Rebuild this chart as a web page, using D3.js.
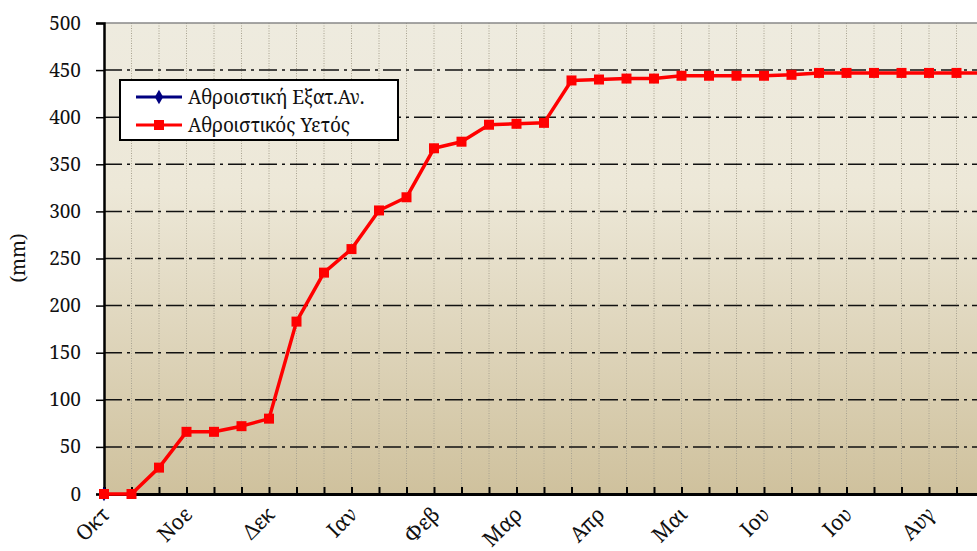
<!DOCTYPE html>
<html>
<head>
<meta charset="utf-8">
<script src="https://cdn.jsdelivr.net/npm/d3@7"></script>
<style>
  body { margin: 0; background: #fff; }
  svg { display: block; overflow: hidden; }
  text { font-family: "Noto Serif", "Liberation Serif", serif; fill: #111; }
</style>
</head>
<body>
<div id="chart"></div>
<script>
// 10-day periods from October onward (37 points, index 0..36); labels every 3rd
var monthLabels = ["Οκτ", "Νοε", "Δεκ", "Ιαν", "Φεβ", "Μαρ", "Απρ", "Μαι", "Ιου", "Ιου", "Αυγ"];
var yTicks = [0, 50, 100, 150, 200, 250, 300, 350, 400, 450, 500];

// cumulative rainfall (mm)
var rainCum = [0, 0, 28, 66, 66, 72, 80, 183, 235, 260, 301, 315, 367, 374, 392, 393, 394,
               439, 440, 441, 441, 444, 444, 444, 444, 445, 447, 447, 447, 447, 447, 447,
               447, 447, 447, 447, 447];
// cumulative evaporation - only the start value is shown
var evapCum = [0];

var seriesNames = ["Αθροιστική Εξατ.Αν.", "Αθροιστικός Υετός"];

var svgwidth = 977, svgheight = 551;
var margin = { top: 23, left: 104 };
var step = 27.5;
var plotBottom = 494;

var svg = d3.select("#chart").append("svg")
    .attr("width", svgwidth)
    .attr("height", svgheight);

var x = d3.scaleLinear().domain([0, 36]).range([margin.left, margin.left + 36 * step]);
var y = d3.scaleLinear().domain([0, 500]).range([plotBottom, margin.top]);

// background gradient
var grad = svg.append("defs").append("linearGradient")
    .attr("id", "bg").attr("x1", 0).attr("y1", 0).attr("x2", 0).attr("y2", 1);
grad.append("stop").attr("offset", "0%").attr("stop-color", "#EEEBDF");
grad.append("stop").attr("offset", "35%").attr("stop-color", "#EDE8D8");
grad.append("stop").attr("offset", "100%").attr("stop-color", "#CFC19D");

svg.append("rect")
    .attr("x", margin.left).attr("y", margin.top)
    .attr("width", x(36) - margin.left).attr("height", plotBottom - margin.top)
    .attr("fill", "url(#bg)");

// vertical dotted grid
svg.append("g").selectAll("line")
    .data(d3.range(1, 37))
    .enter().append("line")
    .attr("x1", d => x(d)).attr("x2", d => x(d))
    .attr("y1", margin.top).attr("y2", plotBottom)
    .attr("stroke", "#a8a290")
    .attr("stroke-width", 1)
    .attr("stroke-dasharray", "1,1.5");

// horizontal dash-dot grid
svg.append("g").selectAll("line")
    .data(yTicks.slice(1, -1))
    .enter().append("line")
    .attr("x1", margin.left).attr("x2", svgwidth)
    .attr("y1", d => y(d)).attr("y2", d => y(d))
    .attr("stroke", "#111")
    .attr("stroke-width", 1.5)
    .attr("stroke-dasharray", "18,5,3,5");

// top border
svg.append("line")
    .attr("x1", margin.left).attr("x2", svgwidth)
    .attr("y1", y(500)).attr("y2", y(500))
    .attr("stroke", "#888").attr("stroke-width", 1.5);

// y axis
var yAxis = d3.axisLeft(y).tickValues(yTicks).tickSize(8).tickPadding(15);
var gy = svg.append("g")
    .attr("transform", `translate(${margin.left},0)`)
    .call(yAxis);
gy.select(".domain").attr("stroke", "#000").attr("stroke-width", 2.5);
gy.selectAll(".tick line").attr("stroke", "#000").attr("stroke-width", 1.5);
gy.selectAll("text").attr("font-size", 19).attr("fill", "#111");

// x axis (ticks inside)
var xAxis = d3.axisBottom(x).tickValues(d3.range(0, 37)).tickSize(-7).tickFormat("");
var gx = svg.append("g")
    .attr("transform", `translate(0,${plotBottom})`)
    .call(xAxis);
gx.select(".domain").attr("stroke", "#000").attr("stroke-width", 3);
gx.selectAll(".tick line").attr("stroke", "#000").attr("stroke-width", 2);

// month labels, rotated
svg.append("g").selectAll("text")
    .data(monthLabels)
    .enter().append("text")
    .attr("transform", (d, i) => `translate(${x(i * 3) + 7},${plotBottom + 22}) rotate(-45)`)
    .attr("text-anchor", "end")
    .attr("font-size", 21)
    .text(d => d);

// y label
svg.append("text")
    .attr("transform", "translate(25,258) rotate(-90)")
    .attr("text-anchor", "middle")
    .attr("font-size", 19)
    .text("(mm)");

// lines
var line = d3.line().x((d, i) => x(i)).y(d => y(d));

svg.append("path").datum(evapCum)
    .attr("d", line).attr("fill", "none")
    .attr("stroke", "#000080").attr("stroke-width", 3);
svg.append("g").selectAll("path")
    .data(evapCum).enter().append("path")
    .attr("d", d3.symbol().type(d3.symbolDiamond).size(60))
    .attr("transform", (d, i) => `translate(${x(i)},${y(d)})`)
    .attr("fill", "#000080");

svg.append("path").datum(rainCum)
    .attr("d", line).attr("fill", "none")
    .attr("stroke", "#ff0000").attr("stroke-width", 3.5)
    .attr("stroke-linejoin", "round");
svg.append("g").selectAll("rect")
    .data(rainCum).enter().append("rect")
    .attr("x", (d, i) => x(i) - 5).attr("y", d => y(d) - 5)
    .attr("width", 10).attr("height", 10)
    .attr("fill", "#ff0000");

// legend
var legend = svg.append("g").attr("transform", "translate(120,80)");
legend.append("rect")
    .attr("width", 278).attr("height", 60)
    .attr("fill", "#fff").attr("stroke", "#000").attr("stroke-width", 2);

var legendColors = ["#000080", "#ff0000"];
seriesNames.forEach(function(name, i) {
    var ly = 17 + i * 28;
    legend.append("line")
        .attr("x1", 16).attr("x2", 62).attr("y1", ly).attr("y2", ly)
        .attr("stroke", legendColors[i]).attr("stroke-width", 3);
    if (i == 0) {
        legend.append("path")
            .attr("d", d3.symbol().type(d3.symbolDiamond).size(60))
            .attr("transform", `translate(39,${ly})`)
            .attr("fill", legendColors[i]);
    } else {
        legend.append("rect")
            .attr("x", 34).attr("y", ly - 5).attr("width", 10).attr("height", 10)
            .attr("fill", legendColors[i]);
    }
    legend.append("text")
        .attr("x", 68).attr("y", ly + 7)
        .attr("font-size", 19)
        .text(name);
});
</script>
</body>
</html>
